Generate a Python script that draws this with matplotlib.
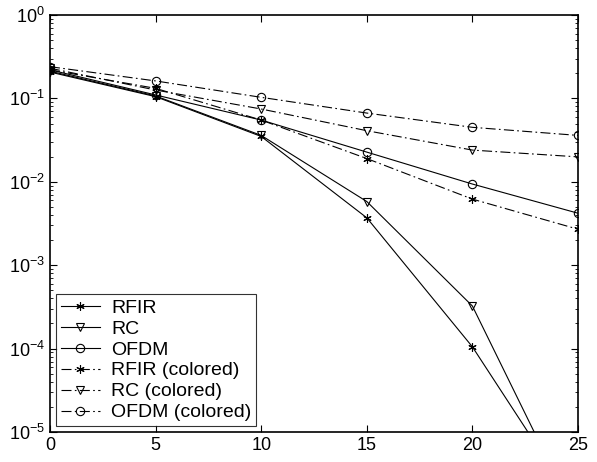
import matplotlib
matplotlib.use("Agg")
import matplotlib.pyplot as plt
from matplotlib.ticker import LogLocator, FixedLocator

plt.rcParams['font.family'] = ['Liberation Sans', 'DejaVu Sans']
plt.rcParams['mathtext.fontset'] = 'custom'
plt.rcParams['mathtext.rm'] = 'Liberation Sans'

snr = [0, 5, 10, 15, 20, 25]
rfir = [0.207, 0.105, 0.035, 0.0037, 1.05e-4, 1.2e-6]
rc = [0.212, 0.107, 0.036, 0.0058, 3.24e-4, 8.5e-7]
ofdm = [0.22, 0.11, 0.055, 0.0227, 0.0094, 0.0042]
rfir_c = [0.22, 0.132, 0.055, 0.019, 0.0062, 0.0027]
rc_c = [0.23, 0.126, 0.0746, 0.041, 0.024, 0.0199]
ofdm_c = [0.24, 0.162, 0.103, 0.0667, 0.045, 0.036]
labels = ["RFIR", "RC", "OFDM", "RFIR (colored)", "RC (colored)", "OFDM (colored)"]

fig = plt.figure(figsize=(5.97, 4.62), dpi=100)
ax = fig.add_axes([50/597, 1 - 432/462, 528/597, 417/462])

dd = (0, (9, 3, 1.5, 3))
lw = 0.8
kw = dict(color='black', lw=lw, markersize=6, markerfacecolor='none', markeredgewidth=0.8)
ax.plot(snr, rfir, '-', marker=(6, 2, 0), label=labels[0], **kw)
ax.plot(snr, rc, '-', marker='v', label=labels[1], **kw)
ax.plot(snr, ofdm, '-', marker='o', label=labels[2], **kw)
ax.plot(snr, rfir_c, linestyle=dd, marker=(6, 2, 0), label=labels[3], **kw)
ax.plot(snr, rc_c, linestyle=dd, marker='v', label=labels[4], **kw)
ax.plot(snr, ofdm_c, linestyle=dd, marker='o', label=labels[5], **kw)

ax.set_yscale('log')
ax.set_xlim(0, 25)
ax.set_ylim(1e-5, 1e0)
ax.xaxis.set_major_locator(FixedLocator([0, 5, 10, 15, 20, 25]))
ax.yaxis.set_major_locator(LogLocator(base=10, numticks=10))
ax.yaxis.set_minor_locator(LogLocator(base=10, subs=range(2, 10), numticks=10))
ax.tick_params(which='both', direction='in', top=True, right=True, labelsize=13)
ax.tick_params(which='major', length=5, width=0.8)
ax.tick_params(which='minor', length=2.5, width=0.6)
for s in ax.spines.values():
    s.set_linewidth(1.2)

leg = ax.legend(loc='lower left', fontsize=14, frameon=True, fancybox=False,
                edgecolor='black', handlelength=2.0, borderpad=0.25,
                labelspacing=0.17, handletextpad=0.6, borderaxespad=0.3)
leg.get_frame().set_linewidth(0.8)

fig.savefig("out.png", dpi=100)
